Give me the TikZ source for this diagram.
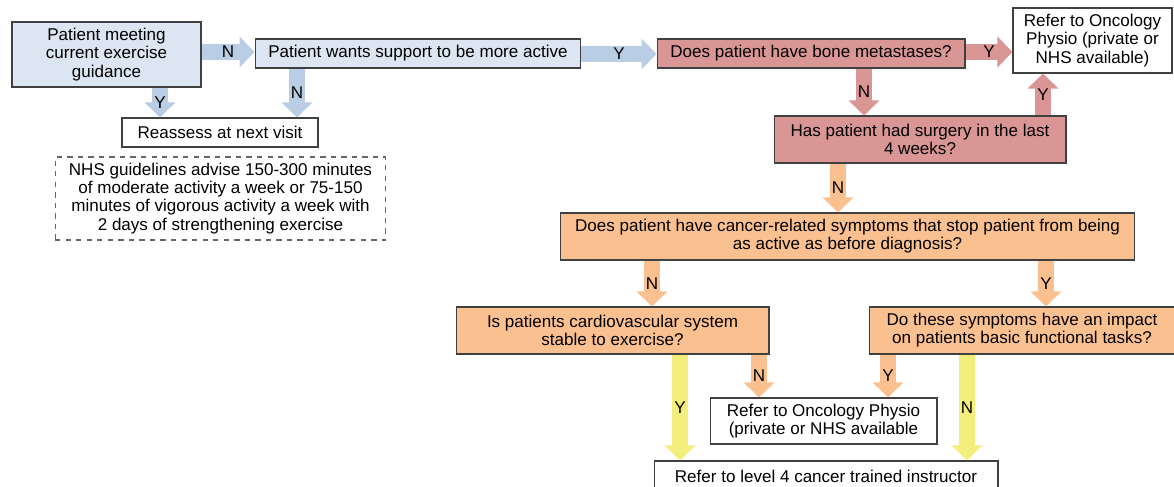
\documentclass[tikz,border=0pt]{standalone}
\usepackage{fontspec}
\setmainfont{Liberation Sans}
\usetikzlibrary{arrows.meta}
\definecolor{boxblue}{HTML}{DCE6F2}
\definecolor{arblue}{HTML}{B9CDE5}
\definecolor{rose}{HTML}{D99694}
\definecolor{peach}{HTML}{FAC090}
\definecolor{lemon}{HTML}{F4EF7C}
\begin{document}
\begin{tikzpicture}[x=0.02cm,y=-0.02cm,font=\fontsize{9.7}{10.3}\selectfont,
	box/.style={draw=black!75,line width=0.6pt,align=center,inner sep=1pt},
	barrow/.style={draw=#1,line width=0.32cm,-{Triangle[width=0.6cm,length=0.3cm]}}]
	\useasboundingbox (0,0) rectangle (1174,487);
	\node[box,fill=boxblue,minimum width=3.78cm,minimum height=1.3cm] (meet) at (106.5,54.5) {Patient meeting\\current exercise\\guidance};
	\node[box,fill=boxblue,minimum width=6.52cm,minimum height=0.58cm] (wants) at (418,53.5) {Patient wants support to be more active};
	\node[box,fill=rose,minimum width=6.16cm,minimum height=0.58cm] (bone) at (811,53.5) {Does patient have bone metastases?};
	\node[box,minimum width=3.18cm,minimum height=1.3cm] (physioA) at (1092.5,40.5) {Refer to Oncology\\Physio (private or\\NHS available)};
	\node[box,fill=rose,minimum width=5.84cm,minimum height=0.94cm] (surgery) at (920,139.5) {Has patient had surgery in the last\\4 weeks?};
	\node[box,minimum width=3.92cm,minimum height=0.58cm] (reassess) at (220,132.5) {Reassess at next visit};
	\node[box,draw=black!60,dashed,minimum width=6.62cm,minimum height=1.66cm] (nhs) at (220.5,198.5) {NHS guidelines advise 150-300 minutes\\of moderate activity a week or 75-150\\minutes of vigorous activity a week with\\2 days of strengthening exercise};
	\node[box,fill=peach,minimum width=11.5cm,minimum height=0.94cm] (symptoms) at (847.5,236.5) {Does patient have cancer-related symptoms that stop patient from being\\as active as before diagnosis?};
	\node[box,fill=peach,minimum width=6.26cm,minimum height=0.94cm] (cardio) at (612.5,330.5) {Is patients cardiovascular system\\stable to exercise?};
	\node[box,fill=peach,minimum width=6.12cm,minimum height=0.94cm] (impact) at (1022,330.5) {Do these symptoms have an impact\\on patients basic functional tasks?};
	\node[box,minimum width=4.54cm,minimum height=0.92cm] (physioB) at (823.5,421) {Refer to Oncology Physio\\(private or NHS available};
	\node[box,minimum width=6.88cm,minimum height=0.6cm] (instructor) at (826,476) {Refer to level 4 cancer trained instructor};
	\draw[barrow=arblue] (meet.east |- 0,52) -- (wants.west |- 0,52) node[midway] {N};
	\draw[barrow=arblue] (160,0 |- meet.south) -- (160,0 |- reassess.north) node[midway] {Y};
	\draw[barrow=arblue] (297,0 |- wants.south) -- (297,0 |- reassess.north) node[midway] {N};
	\draw[barrow=arblue] (wants.east |- 0,54) -- (bone.west |- 0,54) node[midway] {Y};
	\draw[barrow=rose] (bone.east |- 0,52) -- (physioA.west |- 0,52) node[midway] {Y};
	\draw[barrow=rose] (864,0 |- bone.south) -- (864,0 |- surgery.north) node[midway] {N};
	\draw[barrow=rose] (1043,0 |- surgery.north) -- (1043,0 |- physioA.south) node[midway] {Y};
	\draw[barrow=peach] (838,0 |- surgery.south) -- (838,0 |- symptoms.north) node[midway] {N};
	\draw[barrow=peach] (652,0 |- symptoms.south) -- (652,0 |- cardio.north) node[midway] {N};
	\draw[barrow=peach] (1046,0 |- symptoms.south) -- (1046,0 |- impact.north) node[midway] {Y};
	\draw[barrow=lemon] (680,0 |- cardio.south) -- (680,0 |- instructor.north) node[midway] {Y};
	\draw[barrow=peach] (759,0 |- cardio.south) -- (759,0 |- physioB.north) node[midway] {N};
	\draw[barrow=peach] (888,0 |- impact.south) -- (888,0 |- physioB.north) node[midway] {Y};
	\draw[barrow=lemon] (967,0 |- impact.south) -- (967,0 |- instructor.north) node[midway] {N};
\end{tikzpicture}
\end{document}
